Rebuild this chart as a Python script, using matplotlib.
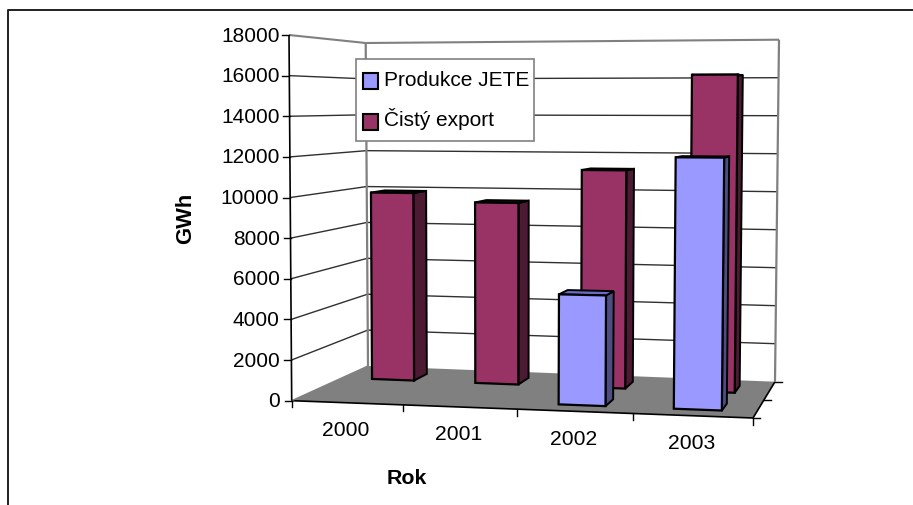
import numpy as np
import matplotlib
matplotlib.use('Agg')
import matplotlib.pyplot as plt
from matplotlib.patches import Polygon, Rectangle

plt.rcParams['font.family'] = ['Liberation Sans', 'DejaVu Sans']

years = ['2000', '2001', '2002', '2003']
produkce_jete = [0, 0, 5350, 12050]
cisty_export = [9900, 9450, 11200, 16100]
value_ticks = [0, 2000, 4000, 6000, 8000, 10000, 12000, 14000, 16000, 18000]
value_max = 18000

# chart box corners in pixels: (across, depth, height)
corners = {
    (0, 0, 0): (291.7, 401.7), (1, 0, 0): (753.0, 419.0),
    (0, 1, 0): (368.0, 367.0), (1, 1, 0): (775.0, 382.7),
    (0, 0, 1): (289.0, 36.0), (1, 0, 1): (757.0, 32.0),
    (0, 1, 1): (365.7, 44.0), (1, 1, 1): (779.0, 40.7),
}


def project(u, v, value):
    # perspective squeeze across, then trilinear between the box corners
    s = u / (u + (1 - u) * 1.05)
    w = value / value_max
    pt = np.zeros(2)
    for (a, b, c), xy in corners.items():
        weight = (s if a else 1 - s) * (v if b else 1 - v) * (w if c else 1 - w)
        pt += weight * np.array(xy)
    return pt


def line3d(ax, p, q, color='black', lw=1.0, z=2):
    a, b = project(*p), project(*q)
    ax.plot([a[0], b[0]], [a[1], b[1]], color=color, lw=lw, zorder=z,
            solid_capstyle='butt')


def bar3d(ax, i, value, v0, v1, front, side, roof, z):
    n = len(years)
    u0 = (i + 0.5 - 0.205) / n
    u1 = (i + 0.5 + 0.205) / n
    face = [project(u0, v0, 0), project(u1, v0, 0), project(u1, v0, value), project(u0, v0, value)]
    right = [project(u1, v0, 0), project(u1, v1, 0), project(u1, v1, value), project(u1, v0, value)]
    top = [project(u0, v0, value), project(u1, v0, value), project(u1, v1, value), project(u0, v1, value)]
    ax.add_patch(Polygon(right, closed=True, fc=side, ec='black', lw=1.4, zorder=z))
    ax.add_patch(Polygon(top, closed=True, fc=roof, ec='black', lw=1.4, zorder=z))
    ax.add_patch(Polygon(face, closed=True, fc=front, ec='black', lw=1.6, zorder=z + 0.1))


fig = plt.figure(figsize=(9.13, 5.06), dpi=100)
ax = fig.add_axes([0, 0, 1, 1])
ax.set_xlim(0, 913)
ax.set_ylim(506, 0)
ax.axis('off')

# outer chart border, open on the right
ax.plot([8, 8, 913], [506, 11, 11], color='#202020', lw=1.4, zorder=1)

# floor
floor = [project(0, 0, 0), project(1, 0, 0), project(1, 1, 0), project(0, 1, 0)]
ax.add_patch(Polygon(floor, closed=True, fc='#808080', ec='none', zorder=1.5))
line3d(ax, (0, 0, 0), (1, 0, 0), lw=1.2)
line3d(ax, (1, 0, 0), (1, 1, 0), lw=1.2)
line3d(ax, (0, 0, 0), (0, 1, 0), color='#808080', lw=1.0)

# walls and gridlines
for val in value_ticks[1:]:
    shade = '#303030' if val < value_max else '#808080'
    width = 1.0 if val < value_max else 1.5
    line3d(ax, (0, 0, val), (0, 1, val), color=shade, lw=width)
    line3d(ax, (0, 1, val), (1, 1, val), color=shade, lw=width)
line3d(ax, (0, 1, 0), (0, 1, value_max), color='#808080', lw=1.6)
line3d(ax, (1, 1, 0), (1, 1, value_max), color='#808080', lw=1.6)

# value axis
line3d(ax, (0, 0, 0), (0, 0, value_max), lw=1.2, z=3)
for val in value_ticks:
    x, y = project(0, 0, val)
    ax.plot([x - 7, x], [y, y], color='black', lw=1.0, zorder=3)
    ax.text(279.5, y, str(val), ha='right', va='center', fontsize=15)

# category axis ticks and labels
for i in range(len(years) + 1):
    x, y = project(i / len(years), 0, 0)
    ax.plot([x, x], [y, y + 6.5], color='black', lw=1.0, zorder=3)
for i, year in enumerate(years):
    x, y = project((i + 0.5) / len(years), 0, 0)
    ax.text(x - 1, y + 27, year, ha='center', va='center', fontsize=15.2)

# depth axis ticks
for v in [0, 0.5, 1]:
    x, y = project(1, v, 0)
    ax.plot([x, x + 7], [y, y], color='black', lw=1.0, zorder=3)

# back row first so the front row hides it
for i, val in enumerate(cisty_export):
    bar3d(ax, i, val, 0.66, 0.85, '#993366', '#4D1A33', '#1A0A12', 4 + i * 0.2)
for i, val in enumerate(produkce_jete):
    if val > 0:
        bar3d(ax, i, val, 0.17, 0.36, '#9999FF', '#4D4D80', '#6A6AC8', 5 + i * 0.2)

# legend
ax.add_patch(Rectangle((355.7, 60), 178.6, 82, fc='white', ec='#808080', lw=1.2, zorder=6))
ax.add_patch(Rectangle((363, 74), 15, 15.5, fc='#9999FF', ec='black', lw=1.5, zorder=7))
ax.add_patch(Rectangle((363, 115), 15, 15.5, fc='#993366', ec='black', lw=1.5, zorder=7))
ax.text(384, 80, 'Produkce JETE', ha='left', va='center', fontsize=15, zorder=7)
ax.text(384, 119, 'Čistý export', ha='left', va='center', fontsize=15, zorder=7)

# axis titles
ax.text(407, 479, 'Rok', ha='center', va='center', fontsize=15.4, fontweight='bold')
ax.text(186, 218, 'GWh', ha='center', va='center', rotation=90, fontsize=15.8, fontweight='bold')

fig.savefig('out.png', dpi=100)
